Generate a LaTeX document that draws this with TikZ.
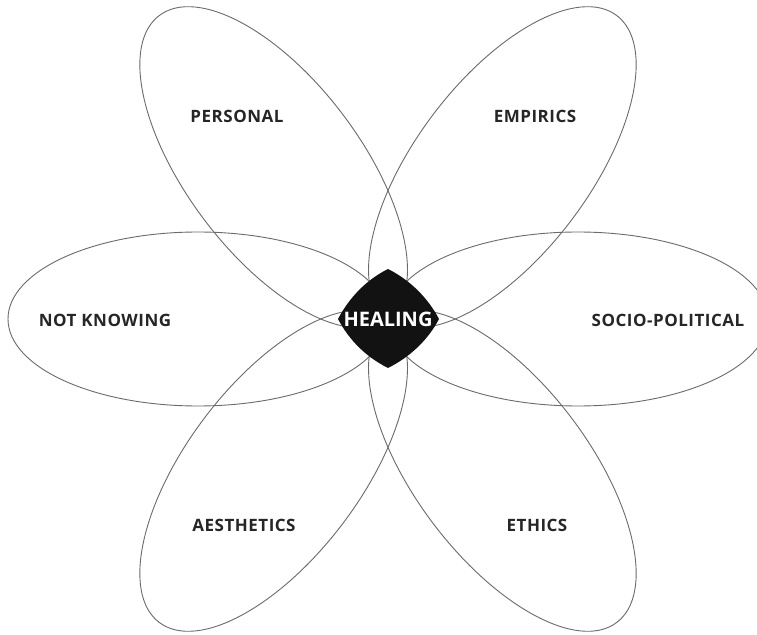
\documentclass[tikz,border=0pt]{standalone}
\usepackage{fontspec}
\setmainfont{Open Sans}
\newfontfamily\lblfont[LetterSpace=3]{Open Sans}
\usepackage{tikz}
\usetikzlibrary{positioning, calc}

\begin{document}
\begin{tikzpicture}[x=1pt, y=1pt,
    petal/.style={draw=black!58, line width=0.9pt},
    lbl/.style={font=\lblfont\fontsize{17}{20}\selectfont\bfseries, text=black!85, inner sep=0pt},
    hub/.style={font=\fontsize{20}{24}\selectfont\bfseries, text=white, inner sep=0pt}]

    % Page frame
    \clip (0,0) rectangle (757,634);
    \fill[white] (0,0) rectangle (757,634);

    % Petals
    \begin{scope}[shift={(388,315)}]
        \foreach \ang in {0,53,127,180,233,307}
            \draw[petal, rotate=\ang] (190,0) ellipse [x radius=190pt, y radius=87pt];

        % Centre diamond
        \fill[black!93] (0,50) .. controls (22,39) and (40,21) .. (51,0)
            .. controls (40,-21) and (22,-38) .. (0,-49)
            .. controls (-22,-38) and (-39,-21) .. (-50,0)
            .. controls (-39,21) and (-22,39) .. cycle;
    \end{scope}

    % Labels
    \node[hub] (healing) at (388,315) {HEALING};
    \node[lbl] (personal) at (237,518) {PERSONAL};
    \node[lbl] (empirics) at (535,518) {EMPIRICS};
    \node[lbl] (notknowing) at (105,314) {NOT KNOWING};
    \node[lbl] (sociopol) at (668,314) {SOCIO-POLITICAL};
    \node[lbl] (aesthetics) at (244,109) {AESTHETICS};
    \node[lbl] (ethics) at (537,109) {ETHICS};

\end{tikzpicture}
\end{document}
